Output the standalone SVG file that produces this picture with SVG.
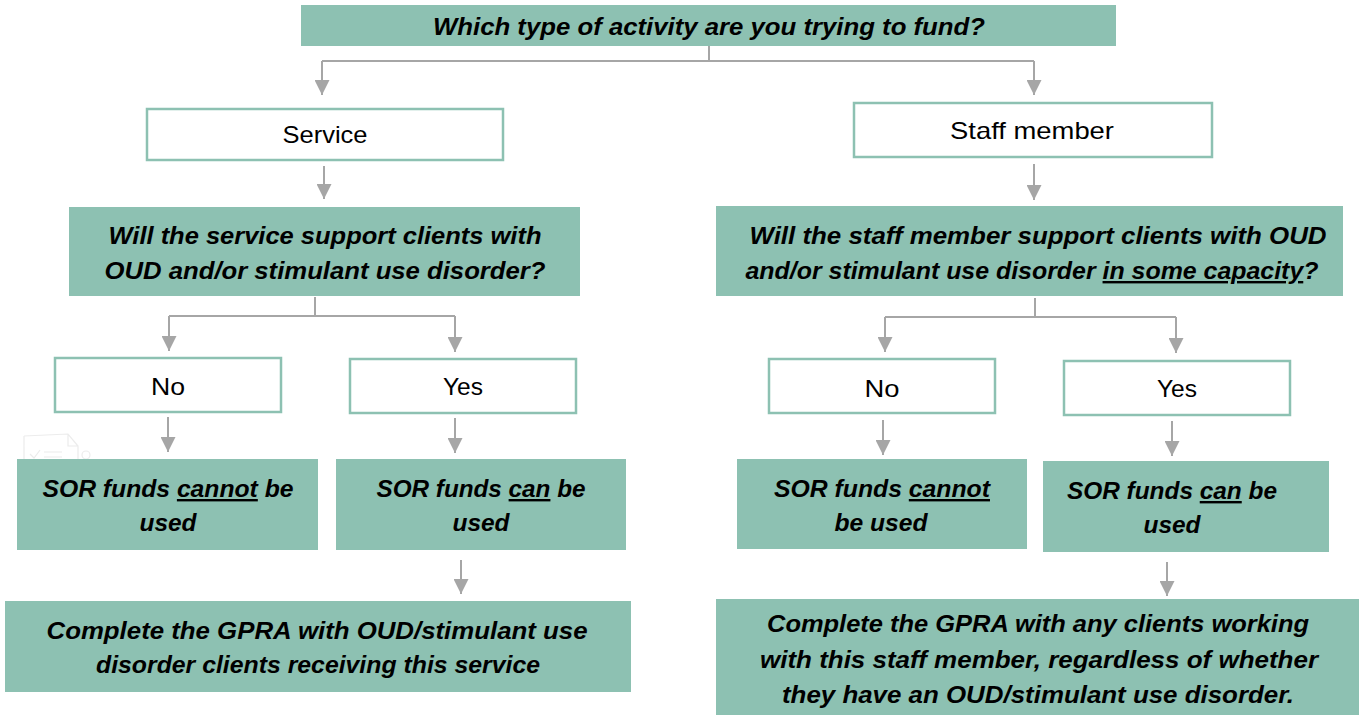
<svg xmlns="http://www.w3.org/2000/svg" width="1367" height="716" viewBox="0 0 1367 716">
<defs>
<style>
.f{fill:#8dc1b2;}
.o{fill:#ffffff;stroke:#8dc1b2;stroke-width:2.5;}
.t{font-family:"Liberation Sans",Arial,sans-serif;font-size:24px;fill:#000;text-anchor:middle;}
.b{font-weight:bold;font-style:italic;}
.c{fill:none;stroke:#a6a6a6;stroke-width:2;}
.u{text-decoration:underline;}
</style>
<marker id="ah" viewBox="0 0 10 10" refX="10" refY="5" markerWidth="7.5" markerHeight="7.5" markerUnits="strokeWidth" orient="auto">
<path d="M0,0 L10,5 L0,10 z" fill="#a6a6a6"/>
</marker>
</defs>
<rect width="1367" height="716" fill="#fff"/>
<g id="faint-icon" fill="none" stroke="#ececec" stroke-width="1.2">
<path d="M24,436 L68,434 L78,446 L78,460 M24,436 L24,460 M68,434 L68,446 L78,446"/>
<path d="M30,454 L34,458 L40,450 M44,452 L62,452 M44,457 L62,457"/>
<circle cx="86" cy="455" r="4"/>
</g>
<g id="connectors" class="c">
<path d="M709,46 V61 M322,61 H1034"/>
<path d="M322,61 V95" marker-end="url(#ah)"/>
<path d="M1034,61 V95" marker-end="url(#ah)"/>
<path d="M324,166 V199" marker-end="url(#ah)"/>
<path d="M1034,164 V200" marker-end="url(#ah)"/>
<path d="M315,297 V316 M169,316 H455"/>
<path d="M169,316 V351" marker-end="url(#ah)"/>
<path d="M455,316 V352" marker-end="url(#ah)"/>
<path d="M168,417 V452" marker-end="url(#ah)"/>
<path d="M455,418 V453" marker-end="url(#ah)"/>
<path d="M461,560 V594" marker-end="url(#ah)"/>
<path d="M1035,298 V317 M885,317 H1176"/>
<path d="M885,317 V352" marker-end="url(#ah)"/>
<path d="M1176,317 V353" marker-end="url(#ah)"/>
<path d="M883,420 V455" marker-end="url(#ah)"/>
<path d="M1172,421 V456" marker-end="url(#ah)"/>
<path d="M1167,562 V596" marker-end="url(#ah)"/>
</g>
<g id="q-activity">
<rect class="f" x="301" y="5" width="815" height="41"/>
<text class="t b" x="709" y="35" textLength="552" lengthAdjust="spacingAndGlyphs">Which type of activity are you trying to fund?</text>
</g>
<g id="service">
<rect class="o" x="147" y="109" width="356" height="51"/>
<text class="t" x="325" y="143" textLength="85" lengthAdjust="spacingAndGlyphs">Service</text>
</g>
<g id="staff">
<rect class="o" x="854" y="103" width="358" height="54"/>
<text class="t" x="1032" y="139" textLength="164" lengthAdjust="spacingAndGlyphs">Staff member</text>
</g>
<g id="q-service">
<rect class="f" x="69" y="207" width="511" height="89"/>
<text class="t b" x="325" y="244" textLength="433" lengthAdjust="spacingAndGlyphs">Will the service support clients with</text>
<text class="t b" x="325" y="279" textLength="441" lengthAdjust="spacingAndGlyphs">OUD and/or stimulant use disorder?</text>
</g>
<g id="q-staff">
<rect class="f" x="716" y="206" width="627" height="90"/>
<text class="t b" x="1038" y="244" textLength="577" lengthAdjust="spacingAndGlyphs">Will the staff member support clients with OUD</text>
<text class="t b" x="1032" y="279" textLength="573" lengthAdjust="spacingAndGlyphs">and/or stimulant use disorder <tspan class="u">in some capacity</tspan>?</text>
</g>
<g id="no-left">
<rect class="o" x="55" y="358" width="226" height="54"/>
<text class="t" x="168" y="395" textLength="34" lengthAdjust="spacingAndGlyphs">No</text>
</g>
<g id="yes-left">
<rect class="o" x="350" y="359" width="226" height="54"/>
<text class="t" x="463" y="395" textLength="40" lengthAdjust="spacingAndGlyphs">Yes</text>
</g>
<g id="cannot-left">
<rect class="f" x="17" y="459" width="301" height="91"/>
<text class="t b" x="168" y="497" textLength="251" lengthAdjust="spacingAndGlyphs">SOR funds <tspan class="u">cannot</tspan> be</text>
<text class="t b" x="168" y="531" textLength="57" lengthAdjust="spacingAndGlyphs">used</text>
</g>
<g id="can-left">
<rect class="f" x="336" y="459" width="290" height="91"/>
<text class="t b" x="481" y="497" textLength="209" lengthAdjust="spacingAndGlyphs">SOR funds <tspan class="u">can</tspan> be</text>
<text class="t b" x="481" y="531" textLength="57" lengthAdjust="spacingAndGlyphs">used</text>
</g>
<g id="gpra-left">
<rect class="f" x="5" y="601" width="626" height="91"/>
<text class="t b" x="317" y="639" textLength="541" lengthAdjust="spacingAndGlyphs">Complete the GPRA with OUD/stimulant use</text>
<text class="t b" x="318" y="673" textLength="444" lengthAdjust="spacingAndGlyphs">disorder clients receiving this service</text>
</g>
<g id="no-right">
<rect class="o" x="769" y="359" width="226" height="54"/>
<text class="t" x="882" y="397" textLength="35" lengthAdjust="spacingAndGlyphs">No</text>
</g>
<g id="yes-right">
<rect class="o" x="1064" y="361" width="226" height="54"/>
<text class="t" x="1177" y="397" textLength="40" lengthAdjust="spacingAndGlyphs">Yes</text>
</g>
<g id="cannot-right">
<rect class="f" x="737" y="459" width="290" height="90"/>
<text class="t b" x="882" y="497" textLength="216" lengthAdjust="spacingAndGlyphs">SOR funds <tspan class="u">cannot</tspan></text>
<text class="t b" x="881" y="531" textLength="93" lengthAdjust="spacingAndGlyphs">be used</text>
</g>
<g id="can-right">
<rect class="f" x="1043" y="461" width="286" height="91"/>
<text class="t b" x="1172" y="499" textLength="210" lengthAdjust="spacingAndGlyphs">SOR funds <tspan class="u">can</tspan> be</text>
<text class="t b" x="1172" y="533" textLength="57" lengthAdjust="spacingAndGlyphs">used</text>
</g>
<g id="gpra-right">
<rect class="f" x="716" y="599" width="643" height="116"/>
<text class="t b" x="1038" y="632" textLength="542" lengthAdjust="spacingAndGlyphs">Complete the GPRA with any clients working</text>
<text class="t b" x="1039" y="668" textLength="558" lengthAdjust="spacingAndGlyphs">with this staff member, regardless of whether</text>
<text class="t b" x="1038" y="703" textLength="512" lengthAdjust="spacingAndGlyphs">they have an OUD/stimulant use disorder.</text>
</g>
</svg>
